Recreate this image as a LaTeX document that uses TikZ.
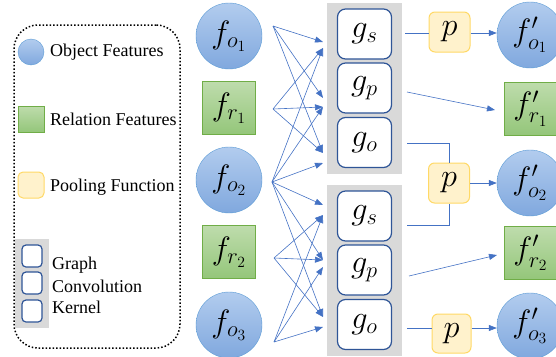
\documentclass[tikz,border=0pt]{standalone}
\usepackage{fontspec}
\setmainfont{Liberation Serif}
\usepackage{amsmath}
\usepackage{tikz}
\usetikzlibrary{positioning, arrows.meta}

\definecolor{objtop}{RGB}{178,204,238}
\definecolor{objbot}{RGB}{128,168,222}
\definecolor{objline}{RGB}{91,155,213}
\definecolor{reltop}{RGB}{190,220,172}
\definecolor{relbot}{RGB}{148,198,122}
\definecolor{relline}{RGB}{112,173,71}
\definecolor{poolfill}{RGB}{255,242,204}
\definecolor{poolline}{RGB}{255,217,102}
\definecolor{kerline}{RGB}{47,85,151}
\definecolor{grpgray}{RGB}{217,217,217}
\definecolor{flowblue}{RGB}{68,114,196}

\begin{document}
\begin{tikzpicture}[
    x=1pt, y=-1pt,
    lbltext/.style={font=\fontsize{24}{28}\selectfont, inner sep=0pt, transform shape, scale=1.3},
    mathlbl/.style={label={[lbltext]center:$#1$}},
    objnode/.style={circle, draw=objline, top color=objtop, bottom color=objbot, minimum size=66pt, inner sep=0pt},
    relnode/.style={rectangle, draw=relline, top color=reltop, bottom color=relbot, minimum size=53pt, inner sep=0pt},
    poolnode/.style={rectangle, rounded corners=6pt, draw=poolline, line width=1pt, fill=poolfill, minimum width=41pt, minimum height=40pt, inner sep=0pt},
    kernode/.style={rectangle, rounded corners=8pt, draw=kerline, line width=1.2pt, fill=white, minimum width=54pt, minimum height=50pt, inner sep=0pt},
    grpnode/.style={rectangle, fill=grpgray, minimum width=75pt, minimum height=171pt, inner sep=0pt},
    flow/.style={draw=flowblue, line width=0.6pt},
    arr/.style={flow, -{Triangle[length=8pt, width=6pt]}},
    legtext/.style={anchor=west, inner sep=0pt, font=\fontsize{18}{20}\selectfont}
]
\useasboundingbox (0,0) rectangle (556,356);
\clip (0,0) rectangle (556,356);

\node[draw, dotted, line width=1.5pt, rounded corners=24pt, minimum width=166pt, minimum height=323pt] (legend) at (97,186.5) {};
\node[objnode, minimum size=26pt] (legobj) at (31,52) {};
\node[legtext] (legobjtxt) at (50,52) {Object Features};
\node[relnode, minimum size=26pt] (legrel) at (31,119) {};
\node[legtext] (legreltxt) at (50,119) {Relation Features};
\node[poolnode, rounded corners=5pt, minimum width=26pt, minimum height=26pt] (legpool) at (31,185) {};
\node[legtext] (legpooltxt) at (50,187) {Pooling Function};
\node[grpnode, minimum width=34pt, minimum height=89pt] (leggrp) at (32,283.5) {};
\node[kernode, rounded corners=4pt, minimum width=20pt, minimum height=22pt] (legker1) at (32,256) {};
\node[kernode, rounded corners=4pt, minimum width=20pt, minimum height=22pt] (legker2) at (32,283) {};
\node[kernode, rounded corners=4pt, minimum width=20pt, minimum height=22pt] (legker3) at (32,311) {};
\node[legtext] (legkertxt1) at (52,265) {Graph};
\node[legtext] (legkertxt2) at (52,286) {Convolution};
\node[legtext] (legkertxt3) at (52,307) {Kernel};

\node[objnode, mathlbl={f_{o_1}}] (fo1) at (229,36) {};
\node[relnode, mathlbl={f_{r_1}}] (fr1) at (229,108) {};
\node[objnode, mathlbl={f_{o_2}}] (fo2) at (229,180) {};
\node[relnode, mathlbl={f_{r_2}}] (fr2) at (229,252) {};
\node[objnode, mathlbl={f_{o_3}}] (fo3) at (229,325) {};

\node[grpnode] (grp1) at (364.5,88.5) {};
\node[grpnode] (grp2) at (364.5,270.5) {};
\node[kernode, mathlbl={g_s}] (gs1) at (364.5,34) {};
\node[kernode, mathlbl={g_p}] (gp1) at (364.5,88) {};
\node[kernode, mathlbl={g_o}] (go1) at (364.5,142.5) {};
\node[kernode, mathlbl={g_s}] (gs2) at (364.5,216) {};
\node[kernode, mathlbl={g_p}] (gp2) at (364.5,270) {};
\node[kernode, mathlbl={g_o}] (go2) at (364.5,324.5) {};

\node[poolnode, mathlbl={p}] (p1) at (449.5,32) {};
\node[poolnode, mathlbl={p}] (p2) at (449,183) {};
\node[poolnode, minimum width=39pt, minimum height=39pt, mathlbl={p}] (p3) at (451.5,333.5) {};

\node[objnode, mathlbl={f'_{o_1}}] (fpo1) at (530,35) {};
\node[relnode, mathlbl={f'_{r_1}}] (fpr1) at (530.5,108.5) {};
\node[objnode, mathlbl={f'_{o_2}}] (fpo2) at (530,183) {};
\node[relnode, mathlbl={f'_{r_2}}] (fpr2) at (530.5,253) {};
\node[objnode, mathlbl={f'_{o_3}}] (fpo3) at (530,326) {};

\coordinate (so1) at (273,26);
\coordinate (sr1) at (273,109);
\coordinate (so2) at (272,182);
\coordinate (sr2) at (274,258);
\coordinate (so3) at (274,342);
\coordinate (ts1a) at (323,42);
\coordinate (ts1b) at (323,48);
\coordinate (tp1a) at (323,98);
\coordinate (tp1b) at (323,107);
\coordinate (to1a) at (323,153);
\coordinate (to1b) at (323,163);
\coordinate (ts2a) at (323,205);
\coordinate (ts2b) at (323,215);
\coordinate (tp2a) at (323,260);
\coordinate (tp2b) at (323,267);
\coordinate (to2a) at (323,317);
\coordinate (to2b) at (323,327);

\foreach \src/\dst in {so1/ts1a, so1/tp1a, so1/to1a, sr1/ts1b, sr1/tp1b, sr1/to1a, so2/ts1b, so2/tp1b, so2/to1b,
                       so2/ts2a, so2/tp2a, so2/to2a, sr2/ts2b, sr2/tp2a, sr2/to2a, so3/ts2b, so3/tp2b, so3/to2b}
    \draw[arr] (\src) -- (\dst);

\coordinate (os1) at (405,33);
\coordinate (op1) at (407,92);
\coordinate (oo1) at (407,143);
\coordinate (os2) at (407,225);
\coordinate (op2) at (409,276);
\coordinate (oo2) at (407,328);
\coordinate (ir1) at (495,110);
\coordinate (ir2) at (497,255);

\draw[flow] (os1) -- (p1.west |- os1);
\draw[arr] (p1.east |- os1) -- (fpo1.west |- os1);
\draw[arr] (op1) -- (ir1);
\draw[flow] (oo1) -| (p2.north);
\draw[flow] (os2) -| (p2.south);
\draw[arr] (p2.east) -- (p2.east -| fpo2.west);
\draw[arr] (op2) -- (ir2);
\draw[flow] (oo2) -- (p3.west |- oo2);
\draw[arr] (p3.east |- oo2) -- (fpo3.west |- oo2);
\end{tikzpicture}
\end{document}
